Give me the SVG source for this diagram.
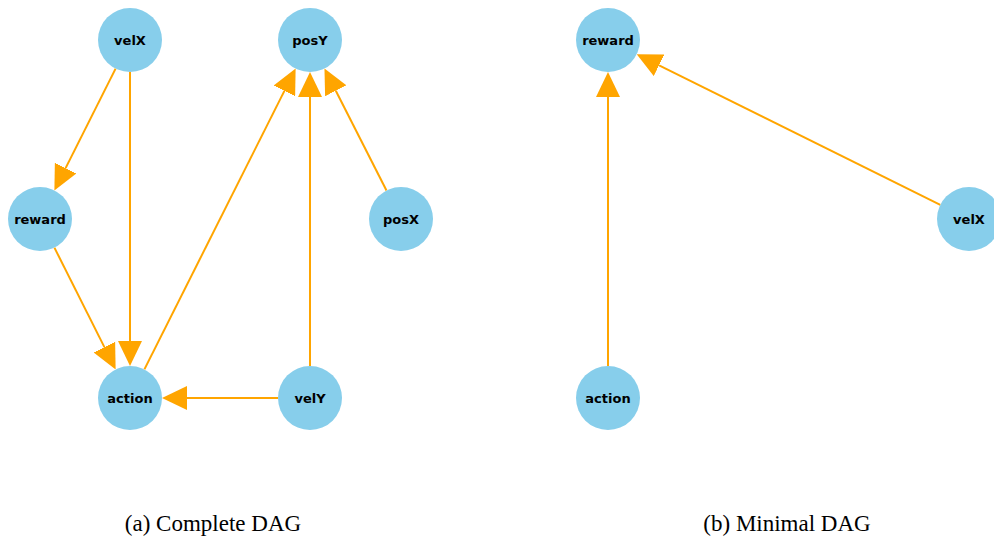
<svg xmlns="http://www.w3.org/2000/svg" width="994" height="540" viewBox="0 0 994 540">
<style>
.node circle{fill:#87CEEB;}
.node text{font-family:"DejaVu Sans",sans-serif;font-weight:bold;font-size:13px;fill:#000;text-anchor:middle;}
.edges line{stroke:#FFA500;stroke-width:2;marker-end:url(#ah);}
.cap{font-family:"Liberation Serif","Times New Roman",serif;font-size:23px;fill:#000;text-anchor:middle;}
</style>
<defs>
<marker id="ah" viewBox="0 -12 25 24" markerUnits="userSpaceOnUse" markerWidth="25" markerHeight="24" refX="0" refY="0" orient="auto">
<path d="M0,-12 L25,0 L0,12 z" fill="#FFA500"/>
</marker>
</defs>
<rect width="994" height="540" fill="#fff"/>
<g id="connectors" class="edges">
<line x1="115.6" y1="68.6" x2="65.6" y2="168.1"/>
<line x1="130" y1="72" x2="130" y2="341"/>
<line x1="54.4" y1="247.6" x2="104.4" y2="347.1"/>
<line x1="144.4" y1="369.4" x2="284.4" y2="90.9"/>
<line x1="310" y1="366" x2="310" y2="97"/>
<line x1="386.5" y1="190.5" x2="335.8" y2="90.8"/>
<line x1="278" y1="398" x2="187" y2="398"/>
<line x1="608" y1="366" x2="608" y2="97"/>
<line x1="940.3" y1="204.8" x2="659.1" y2="65.3"/>
</g>
<g id="a-velX" class="node"><circle cx="130" cy="40" r="32"/><text x="130" y="44.5">velX</text></g>
<g id="a-posY" class="node"><circle cx="310" cy="40" r="32"/><text x="310" y="44.5">posY</text></g>
<g id="a-reward" class="node"><circle cx="40" cy="219" r="32"/><text x="40" y="223.5">reward</text></g>
<g id="a-posX" class="node"><circle cx="401" cy="219" r="32"/><text x="401" y="223.5">posX</text></g>
<g id="a-action" class="node"><circle cx="130" cy="398" r="32"/><text x="130" y="402.5">action</text></g>
<g id="a-velY" class="node"><circle cx="310" cy="398" r="32"/><text x="310" y="402.5">velY</text></g>
<g id="b-reward" class="node"><circle cx="608" cy="40" r="32"/><text x="608" y="44.5">reward</text></g>
<g id="b-velX" class="node"><circle cx="969" cy="219" r="32"/><text x="969" y="223.5">velX</text></g>
<g id="b-action" class="node"><circle cx="608" cy="398" r="32"/><text x="608" y="402.5">action</text></g>
<text class="cap" x="213" y="531">(a) Complete DAG</text>
<text class="cap" x="787" y="531">(b) Minimal DAG</text>
</svg>
